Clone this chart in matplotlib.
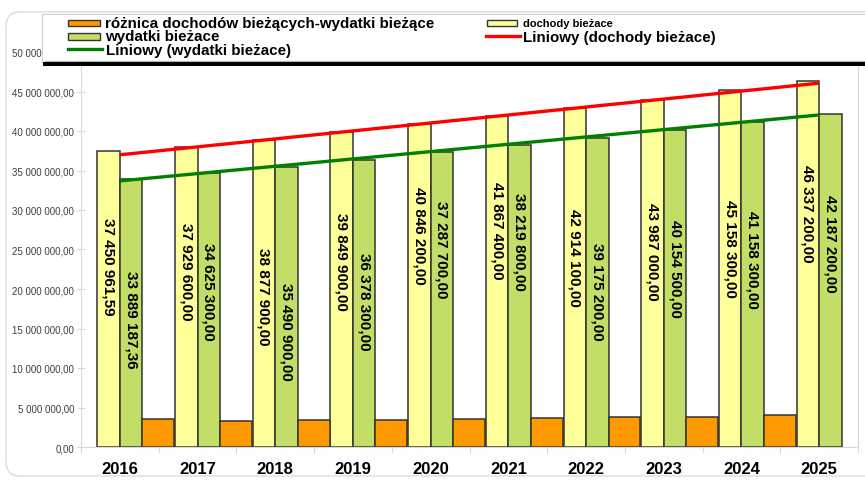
import matplotlib
matplotlib.use('Agg')
import matplotlib.pyplot as plt
import numpy as np
from matplotlib.patches import Rectangle, FancyBboxPatch
from matplotlib.lines import Line2D
from matplotlib.ticker import FuncFormatter, MultipleLocator, FixedLocator
from matplotlib.transforms import IdentityTransform

plt.rcParams['font.family'] = ['Liberation Sans', 'DejaVu Sans']

years = ['2016', '2017', '2018', '2019', '2020', '2021', '2022', '2023', '2024', '2025']
dochody = [37450961.59, 37929600.00, 38877900.00, 39849900.00, 40846200.00,
           41867400.00, 42914100.00, 43987000.00, 45158300.00, 46337200.00]
wydatki = [33889187.36, 34625300.00, 35490900.00, 36378300.00, 37287700.00,
           38219800.00, 39175200.00, 40154500.00, 41158300.00, 42187200.00]
# difference series (2025 bar not visible in the original)
roznica = [3561774.23, 3304300.00, 3387000.00, 3471600.00, 3558500.00,
           3647600.00, 3738900.00, 3832500.00, 4000000.00]

legend_labels = ['różnica dochodów bieżących-wydatki bieżące', 'wydatki bieżace',
                 'Liniowy (wydatki bieżace)', 'dochody bieżace', 'Liniowy (dochody bieżace)']

# vertical positions (value units) of the rotated data labels
lab_y_doch = [22.9e6, 22.3e6, 19.2e6, 23.5e6, 26.8e6, 27.5e6, 24.1e6, 24.8e6, 25.2e6, 29.6e6]
lab_y_wyd = [16.2e6, 19.7e6, 14.7e6, 18.5e6, 25.1e6, 26.1e6, 19.7e6, 22.7e6, 23.8e6, 25.8e6]

W, H = 865, 481
C_Y = '#FFFF99'
C_G = '#C2DE66'
C_O = '#FF9900'
EDGE = '#333333'
GRAY = '#D9D9D9'


def fmt(v, pos=None):
    return f"{v:,.2f}".replace(',', ' ').replace('.', ',')


fig = plt.figure(figsize=(W / 100, H / 100), dpi=100)
fig.patch.set_facecolor('white')

# chart area rounded border
fig.add_artist(FancyBboxPatch((6, H - 477), 900, 464, boxstyle='round,pad=0,rounding_size=14',
                              transform=IdentityTransform(), facecolor='none',
                              edgecolor='#DDDDDD', lw=1.0, zorder=-1))

ax = fig.add_axes([81 / W, 1 - 448 / H, (858 - 81) / W, (448 - 53) / H])
x = np.arange(len(years))

ax.bar(x - 0.145, dochody, width=0.29, color=C_Y, edgecolor=EDGE, linewidth=1.1, zorder=2)
ax.bar(x + 0.145, wydatki, width=0.29, color=C_G, edgecolor=EDGE, linewidth=1.1, zorder=2)
ax.bar(x[:len(roznica)] + 0.495, roznica, width=0.41, color=C_O, edgecolor=EDGE, linewidth=1.1, zorder=2)

pd_ = np.polyfit(x, dochody, 1)
pw_ = np.polyfit(x, wydatki, 1)
ax.plot(x, np.polyval(pd_, x), color='#FF0000', lw=2.4, zorder=4, solid_capstyle='butt')
ax.plot(x, np.polyval(pw_, x), color='#008000', lw=2.4, zorder=4, solid_capstyle='butt')

for i in range(len(years)):
    ax.text(x[i] - 0.145, lab_y_doch[i], fmt(dochody[i]), rotation=270, ha='center', va='center',
            fontsize=11, fontweight='bold', color='black', zorder=5)
    ax.text(x[i] + 0.145, lab_y_wyd[i], fmt(wydatki[i]), rotation=270, ha='center', va='center',
            fontsize=11, fontweight='bold', color='black', zorder=5)

ax.set_xlim(-0.5, 9.5)
ax.set_ylim(0, 50e6)
ax.yaxis.set_major_locator(MultipleLocator(5e6))
ax.yaxis.set_major_formatter(FuncFormatter(fmt))
ax.tick_params(axis='y', direction='inout', length=6, color=GRAY, width=0.8,
               labelsize=7, labelcolor='#404040', pad=2)
ax.set_xticks(x)
ax.set_xticklabels(years, fontsize=12, fontweight='bold')
ax.tick_params(axis='x', which='major', length=0, pad=10)
ax.xaxis.set_minor_locator(FixedLocator(np.arange(-0.5, 10, 1.0)))
ax.tick_params(axis='x', which='minor', direction='inout', length=8, color=GRAY, width=0.8)
for s in ['left', 'bottom', 'right']:
    ax.spines[s].set_color(GRAY)
    ax.spines[s].set_linewidth(0.8)
ax.spines['top'].set_visible(False)

# legend box
T = IdentityTransform()
fig.add_artist(Rectangle((42, H - 63), 900, 48, transform=T, facecolor='white',
                         edgecolor='#D0D0D0', lw=0.8, zorder=10))
fig.add_artist(Line2D([45, 900], [H - 62, H - 62], transform=T, color='#BBBBBB', lw=1, zorder=11))
fig.add_artist(Line2D([45, 900], [H - 65, H - 65], transform=T, color='black', lw=2.9, zorder=11))


def patch(x0, x1, yc, color):
    fig.add_artist(Rectangle((x0, H - yc - 3.2), x1 - x0, 6.4, transform=T, facecolor=color,
                             edgecolor=EDGE, lw=1.0, zorder=12))


def line(x0, x1, yc, color):
    fig.add_artist(Line2D([x0, x1], [H - yc, H - yc], transform=T, color=color, lw=2.4, zorder=12))


def label(x0, yc, s, size=10.9):
    fig.text(x0 / W, 1 - yc / H, s, ha='left', va='center', fontsize=size, fontweight='bold',
             color='black', zorder=12)


patch(68, 100, 24, C_O)
label(105, 24, legend_labels[0])
patch(68, 100, 37.5, C_G)
label(105, 37.5, legend_labels[1])
line(68, 102, 50, '#008000')
label(106, 51, legend_labels[2])
patch(487, 517, 24, C_Y)
label(523, 24, legend_labels[3], size=8)
line(486, 520, 37, '#FF0000')
label(523, 38, legend_labels[4])

fig.savefig('out.png', dpi=100, facecolor='white')
